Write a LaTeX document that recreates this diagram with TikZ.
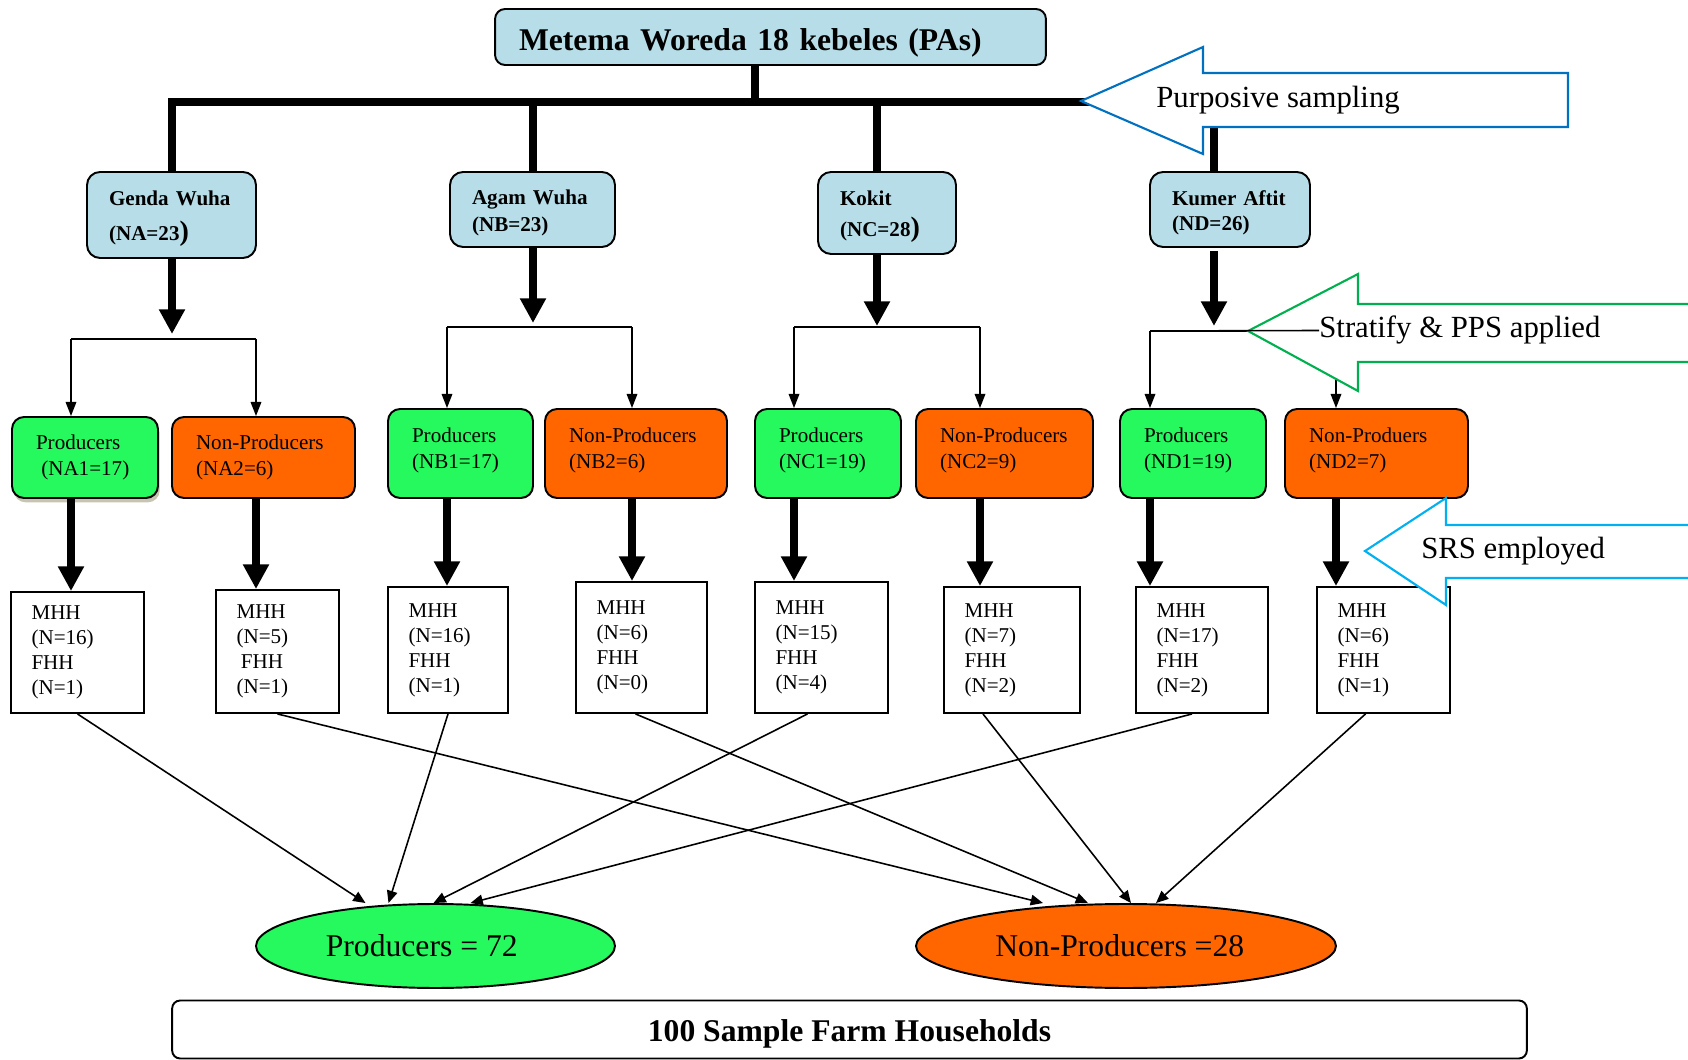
\documentclass[tikz,border=0pt]{standalone}
\usepackage{fontspec}
\setmainfont{Liberation Serif}
\usepackage{xcolor}
\usepackage{tikz}
\usetikzlibrary{shapes.geometric, arrows.meta, shadows, calc}
\definecolor{kebeleblue}{HTML}{B7DEE8}
\definecolor{prodgreen}{HTML}{26F95E}
\definecolor{nonprodorange}{HTML}{FF6600}
\definecolor{purposiveblue}{HTML}{0070C0}
\definecolor{ppsgreen}{HTML}{00B050}
\definecolor{srscyan}{HTML}{00B0F0}

\begin{document}
\begin{tikzpicture}[x=0.02cm, y=-0.02cm,
    woreda/.style={draw,rounded corners=0.2cm,line width=1.1pt,fill=kebeleblue,align=left,inner xsep=0.48cm,inner ysep=0pt,font=\fontsize{18}{21.6}\selectfont\bfseries},
    kebele/.style={draw,rounded corners=0.26cm,line width=1.1pt,fill=kebeleblue,align=left,inner xsep=0.44cm,inner ysep=0pt,font=\fontsize{12}{14.4}\selectfont\bfseries,execute at begin node={\rule{0pt}{12.5pt}}},
    prod/.style={draw,rounded corners=0.24cm,line width=1.1pt,fill=prodgreen,align=left,inner xsep=0.48cm,inner ysep=0pt,font=\fontsize{12}{14.4}\selectfont},
    nonprod/.style={prod,fill=nonprodorange},
    tallbox/.style={minimum height=1.78cm,execute at end node={\rule[-6pt]{0pt}{0pt}}},
    hh/.style={draw,line width=1.1pt,fill=white,align=left,inner xsep=0.41cm,inner ysep=0pt,font=\fontsize{12}{14.2}\selectfont},
    total/.style={draw,ellipse,line width=1.1pt,inner sep=0pt,minimum height=1.68cm,font=\fontsize{18}{22}\selectfont},
    trunk/.style={line width=4pt},
    bigarr/.style={line width=4pt,-{Triangle[length=14pt,width=14pt]}},
    splitline/.style={line width=0.9pt},
    splitarr/.style={line width=0.9pt,-{Triangle[length=8pt,width=6pt]}},
    samplearr/.style={line width=0.9pt,-{Triangle[length=7pt,width=6pt]}},
    callout/.style={fill=white,line width=1.2pt,line join=miter},
    callouttext/.style={anchor=base west,inner sep=0pt,font=\fontsize{17.5}{21}\selectfont}
  ]
    \useasboundingbox (0,0) rectangle (1688,1060);

    \node[woreda, text width=10.06cm, text height=15.4pt, text depth=0pt, minimum height=1.12cm] (woreda) at (770.5,37) {Metema Woreda 18 kebeles (PAs)};

    \node[kebele, text width=2.5cm, minimum height=1.72cm] (genda) at (171.5,215) {Genda Wuha\\[5pt](NA=23{\fontsize{16}{16}\selectfont)}};
    \node[kebele, text width=2.42cm, minimum height=1.5cm] (agam) at (532.5,209.5) {Agam Wuha\\[1pt](NB=23)};
    \node[kebele, text width=1.88cm, minimum height=1.64cm] (kokit) at (887,213) {Kokit\\[3pt](NC=28{\fontsize{16}{16}\selectfont)}};
    \node[kebele, text width=2.32cm, minimum height=1.5cm] (kumer) at (1230,209.5) {Kumer Aftit\\(ND=26)};

    \coordinate (stem) at (755,102);
    \coordinate (colA) at (172,102);
    \coordinate (colB) at (533,102);
    \coordinate (colC) at (877,102);
    \coordinate (colD) at (1214,102);
    \draw[trunk] (stem |- woreda.south) -- (stem);
    \draw[trunk] (colA |- genda.north) -- (colA) -- (colD) -- (colD |- kumer.north);
    \draw[trunk] (colB) -- (colB |- agam.north);
    \draw[trunk] (colC) -- (colC |- kokit.north);

    \node[prod, text width=1.96cm, minimum height=1.62cm, drop shadow={shadow xshift=1pt,shadow yshift=-2.5pt,fill=gray!70!olive,opacity=0.5}] (na1) at (85,457.5) {Producers\\\hspace{3pt}(NA1=17)};
    \node[nonprod, text width=2.70cm, minimum height=1.62cm] (na2) at (263.5,457.5) {Non-Producers\\(NA2=6)};
    \node[prod, tallbox, text width=1.94cm] (nb1) at (460.5,453.5) {Producers\\(NB1=17)};
    \node[nonprod, tallbox, text width=2.68cm] (nb2) at (636,453.5) {Non-Producers\\(NB2=6)};
    \node[prod, tallbox, text width=1.96cm] (nc1) at (828,453.5) {Producers\\(NC1=19)};
    \node[nonprod, tallbox, text width=2.58cm] (nc2) at (1004.5,453.5) {Non-Producers\\(NC2=9)};
    \node[prod, tallbox, text width=1.96cm] (nd1) at (1193,453.5) {Producers\\(ND1=19)};
    \node[nonprod, tallbox, text width=2.70cm] (nd2) at (1376.5,453.5) {Non-Produers\\(ND2=7)};

    \node[hh, text width=1.84cm, minimum height=2.42cm] (a1) at (77.5,652.5) {MHH\\(N=16)\\FHH\\(N=1)};
    \node[hh, text width=1.64cm, minimum height=2.46cm] (a2) at (277.5,651.5) {MHH\\(N=5)\\\hspace{2.5pt}FHH\\(N=1)};
    \node[hh, text width=1.58cm, minimum height=2.52cm] (b1) at (448,650) {MHH\\(N=16)\\FHH\\(N=1)};
    \node[hh, text width=1.80cm, minimum height=2.62cm] (b2) at (641.5,647.5) {MHH\\(N=6)\\FHH\\(N=0)};
    \node[hh, text width=1.84cm, minimum height=2.62cm] (c1) at (821.5,647.5) {MHH\\(N=15)\\FHH\\(N=4)};
    \node[hh, text width=1.90cm, minimum height=2.52cm] (c2) at (1012,650) {MHH\\(N=7)\\FHH\\(N=2)};
    \node[hh, text width=1.82cm, minimum height=2.52cm] (d1) at (1202,650) {MHH\\(N=17)\\FHH\\(N=2)};
    \node[hh, text width=1.84cm, minimum height=2.52cm] (d2) at (1383.5,650) {MHH\\(N=6)\\FHH\\(N=1)};

    \coordinate (pa1) at (71,339);
    \coordinate (pa2) at (256,339);
    \coordinate (pb1) at (447,327);
    \coordinate (pb2) at (632,327);
    \coordinate (pc1) at (794,327);
    \coordinate (pc2) at (980,327);
    \coordinate (pd1) at (1150,331);
    \coordinate (pd2) at (1336,331);

    \draw[bigarr, shorten >=0.1cm] (colA |- genda.south) -- (colA |- pa1);
    \draw[bigarr, shorten >=0.08cm] (colB |- agam.south) -- (colB |- pb1);
    \draw[bigarr, shorten >=0.02cm] (colC |- kokit.south) -- (colC |- pc1);
    \draw[bigarr, shorten <=0.06cm, shorten >=0.1cm] (colD |- kumer.south) -- (colD |- pd1);

    \draw[splitline] (pa1) -- (pa2);
    \draw[splitline] (pb1) -- (pb2);
    \draw[splitline] (pc1) -- (pc2);
    \draw[splitline] (pd1) -- (pd2);
    \draw[splitarr] (pa1) -- (pa1 |- na1.north);
    \draw[splitarr] (pa2) -- (pa2 |- na2.north);
    \draw[splitarr] (pb1) -- (pb1 |- nb1.north);
    \draw[splitarr] (pb2) -- (pb2 |- nb2.north);
    \draw[splitarr] (pc1) -- (pc1 |- nc1.north);
    \draw[splitarr] (pc2) -- (pc2 |- nc2.north);
    \draw[splitarr] (pd1) -- (pd1 |- nd1.north);
    \draw[splitarr] (pd2) -- (pd2 |- nd2.north);

    \draw[bigarr] (pa1 |- na1.south) -- (pa1 |- a1.north);
    \draw[bigarr] (pa2 |- na2.south) -- (pa2 |- a2.north);
    \draw[bigarr] (pb1 |- nb1.south) -- (pb1 |- b1.north);
    \draw[bigarr] (pb2 |- nb2.south) -- (pb2 |- b2.north);
    \draw[bigarr] (pc1 |- nc1.south) -- (pc1 |- c1.north);
    \draw[bigarr] (pc2 |- nc2.south) -- (pc2 |- c2.north);
    \draw[bigarr] (pd1 |- nd1.south) -- (pd1 |- d1.north);
    \draw[bigarr] (pd2 |- nd2.south) -- (pd2 |- d2.north);

    \node[total, fill=prodgreen, minimum width=7.18cm] (prodtotal) at (435.5,946) {Producers = 72\kern0.55cm};
    \node[total, fill=nonprodorange, minimum width=8.4cm] (nonprodtotal) at (1126,946) {Non-Producers =28\kern0.25cm};

    \draw[samplearr] (a1.south) -- ($(prodtotal.north)+(-70,0)$);
    \draw[samplearr] (a2.south) -- ($(nonprodtotal.north)+(-83,0)$);
    \draw[samplearr] (b1.south) -- ($(prodtotal.north)+(-47,0)$);
    \draw[samplearr] ($(b2.south)+(-6,0)$) -- ($(nonprodtotal.north)+(-38,0)$);
    \draw[samplearr] ($(c1.south)+(-14,0)$) -- ($(prodtotal.north)+(-2,0)$);
    \draw[samplearr] ($(c2.south)+(-29,0)$) -- ($(nonprodtotal.north)+(5,0)$);
    \draw[samplearr] ($(d1.south)+(-10,0)$) -- ($(prodtotal.north)+(35,0)$);
    \draw[samplearr] ($(d2.south)+(-18,0)$) -- ($(nonprodtotal.north)+(30,0)$);

    \node[draw, rounded corners=0.16cm, line width=1.1pt, minimum width=27.1cm, minimum height=1.16cm, text height=14pt, text depth=0pt, font=\fontsize{18}{21.6}\selectfont\bfseries] (sample) at (849.5,1029.5) {100 Sample Farm Households};

    \draw[callout, draw=purposiveblue] (1081,101) -- (1203,47) -- (1203,73) -- (1568,73) -- (1568,127) -- (1203,127) -- (1203,154) -- cycle;
    \node[callouttext] (purposive) at (1156,108) {Purposive sampling};

    \draw[callout, draw=ppsgreen] (1248,331) -- (1358,274) -- (1358,304) -- (1720,304) -- (1720,362) -- (1358,362) -- (1358,391) -- cycle;
    \node[callouttext] (pps) at (1319,338) {Stratify \& PPS applied};
    \draw[splitline] (pd1) -- (pps.west);

    \draw[callout, draw=srscyan] (1365,551) -- (1446,498) -- (1446,525) -- (1720,525) -- (1720,578) -- (1446,578) -- (1446,605) -- cycle;
    \node[callouttext] (srs) at (1421,559) {SRS employed};
  \end{tikzpicture}
\end{document}
